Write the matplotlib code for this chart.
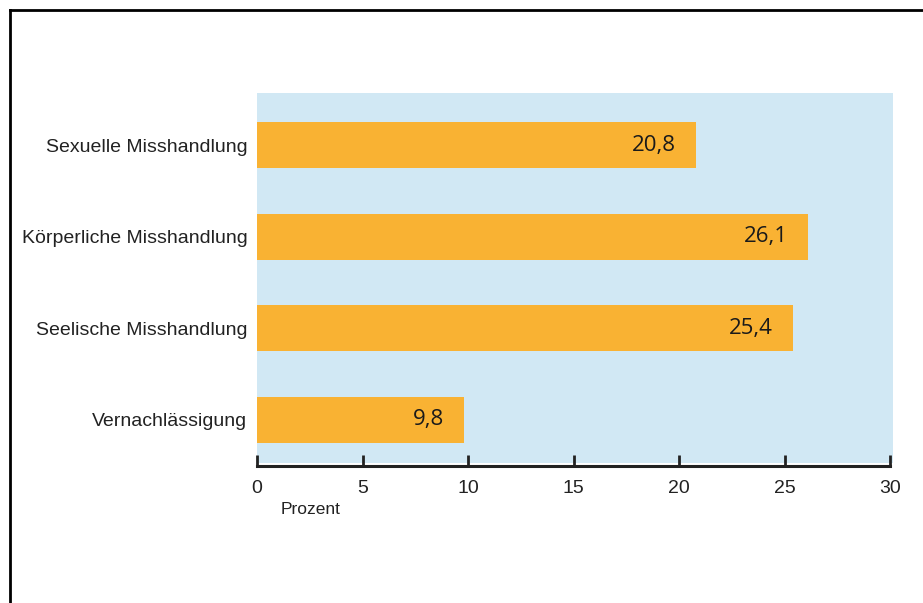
import matplotlib.pyplot as plt
from matplotlib.lines import Line2D

categories = ["Sexuelle Misshandlung", "Körperliche Misshandlung",
              "Seelische Misshandlung", "Vernachlässigung"]
values = [20.8, 26.1, 25.4, 9.8]
value_labels = ["20,8", "26,1", "25,4", "9,8"]
x_ticks = [0, 5, 10, 15, 20, 25, 30]

BAR_COLOR = "#F9B233"
BG_COLOR = "#D1E8F4"
TXT = "#222222"

fig = plt.figure(figsize=(9.23, 6.03), dpi=100)
ax = fig.add_axes([257 / 923, 1 - 463 / 603, (893 - 257) / 923, (463 - 93) / 603])
ax.set_facecolor(BG_COLOR)

# spines first - repositioning resets the tick label styling
for s in ["top", "right", "left"]:
    ax.spines[s].set_visible(False)
ax.spines["bottom"].set_bounds(0, 30)
ax.spines["bottom"].set_position(("outward", 2.5))
ax.spines["bottom"].set_linewidth(2.2)
ax.spines["bottom"].set_color(TXT)

y = list(range(len(categories)))
ax.barh(y, values, height=0.5, color=BAR_COLOR, zorder=2)
for yi, v, lab in zip(y, values, value_labels):
    ax.annotate(lab, (v, yi), xytext=(-20, 0), textcoords="offset pixels",
                ha="right", va="center", fontsize=16, family="Open Sans",
                color="#1a1a1a", zorder=3)

ax.set_xlim(0, 30.14)
ax.set_ylim(3.47, -0.57)
ax.set_yticks(y)
ax.set_yticklabels(categories, family="Liberation Sans", fontsize=14, color=TXT)
ax.tick_params(axis="y", length=0, pad=7)
ax.set_xticks(x_ticks)
ax.set_xticklabels([str(t) for t in x_ticks], family="Liberation Sans", fontsize=14,
                   color=TXT)
ax.tick_params(axis="x", direction="in", length=8, width=2, pad=10, color=TXT)

fig.text(281 / 923, 1 - 509 / 603, "Prozent", family="Liberation Sans", fontsize=12.5,
         color=TXT, va="center")

# frame lines (left and top)
fig.add_artist(Line2D([9.5 / 923, 9.5 / 923], [0, 1 - 10 / 603], transform=fig.transFigure,
                      color="black", lw=2))
fig.add_artist(Line2D([9.5 / 923, 1], [1 - 10 / 603, 1 - 10 / 603], transform=fig.transFigure,
                      color="black", lw=2))

fig.savefig("out.png", dpi=100)
